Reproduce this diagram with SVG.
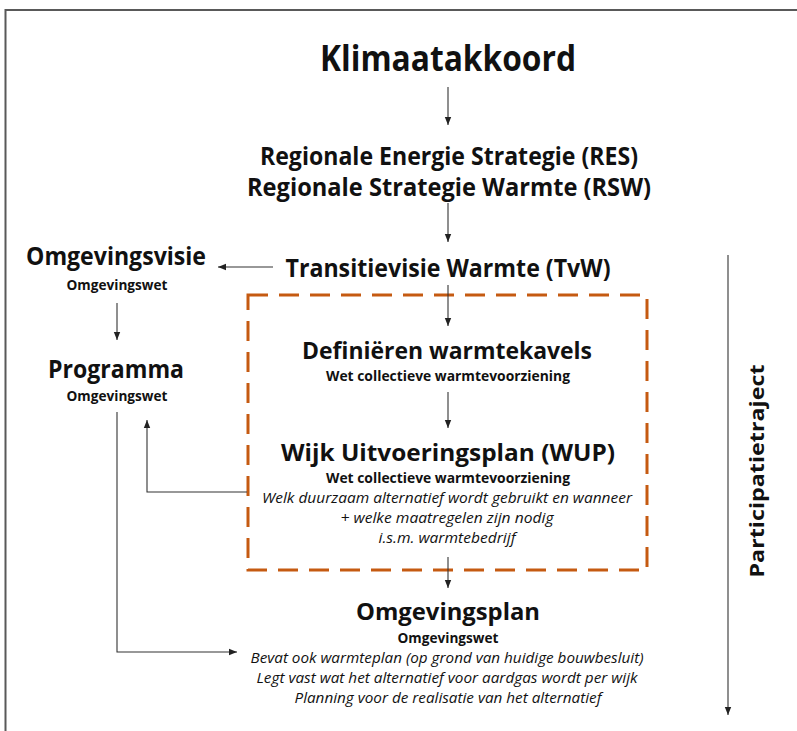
<svg xmlns="http://www.w3.org/2000/svg" width="797" height="731" viewBox="0 0 797 731">
  <defs>
    <marker id="arr" viewBox="0 0 10 10" markerUnits="userSpaceOnUse" markerWidth="8" markerHeight="8" refX="10" refY="5" orient="auto">
      <path d="M0,1 L10,5 L0,9 z" fill="#222"/>
    </marker>
  </defs>
  <style>
    text { font-family: "Open Sans", "Noto Sans", "Liberation Sans", sans-serif; fill: #111; text-anchor: middle; }
    .h1 { font-size: 36px; font-weight: 700; }
    .h2 { font-size: 25px; font-weight: 700; }
    .h3 { font-size: 24px; font-weight: 700; }
    .sub { font-size: 14px; font-weight: 700; }
    .it { font-size: 14.5px; font-style: italic; font-weight: 400; }
    .side { font-size: 19px; font-weight: 700; }
    .conn { fill: none; stroke: #333; stroke-width: 1.1; }
    .frame { fill: none; stroke: #595959; stroke-width: 2; }
    .dash { fill: none; stroke: #C55A11; stroke-width: 3; stroke-dasharray: 20 11; }
  </style>
  <rect width="797" height="731" fill="#ffffff"/>
  <g id="frame">
    <path class="frame" d="M5.5,731 L5.5,10 L797,10"/>
  </g>

  <g id="wijk-kader">
    <rect class="dash" x="248" y="295" width="399" height="275"/>
  </g>

  <g id="connectors">
    <line class="conn" x1="448" y1="87" x2="448" y2="125" marker-end="url(#arr)"/>
    <line class="conn" x1="448" y1="203" x2="448" y2="242" marker-end="url(#arr)"/>
    <line class="conn" x1="273" y1="267" x2="218" y2="267" marker-end="url(#arr)"/>
    <line class="conn" x1="117" y1="303" x2="117" y2="340" marker-end="url(#arr)"/>
    <line class="conn" x1="448" y1="285" x2="448" y2="326" marker-end="url(#arr)"/>
    <line class="conn" x1="448" y1="392" x2="448" y2="428" marker-end="url(#arr)"/>
    <polyline class="conn" points="247,492 147,492 147,420" marker-end="url(#arr)"/>
    <line class="conn" x1="448" y1="557" x2="448" y2="588" marker-end="url(#arr)"/>
    <polyline class="conn" points="117,412 117,652 237,652" marker-end="url(#arr)"/>
    <line class="conn" x1="728" y1="255" x2="728" y2="715" marker-end="url(#arr)"/>
  </g>

  <g id="klimaatakkoord">
    <text class="h1" x="448" y="71" textLength="256" lengthAdjust="spacingAndGlyphs">Klimaatakkoord</text>
  </g>
  <g id="res-rsw">
    <text class="h2" x="449" y="165" textLength="378" lengthAdjust="spacingAndGlyphs">Regionale Energie Strategie (RES)</text>
    <text class="h2" x="449" y="196" textLength="404" lengthAdjust="spacingAndGlyphs">Regionale Strategie Warmte (RSW)</text>
  </g>
  <g id="tvw">
    <text class="h2" x="448" y="277" textLength="325" lengthAdjust="spacingAndGlyphs">Transitievisie Warmte (TvW)</text>
  </g>
  <g id="omgevingsvisie">
    <text class="h2" x="116" y="265" textLength="180" lengthAdjust="spacingAndGlyphs">Omgevingsvisie</text>
    <text class="sub" x="117" y="290" textLength="101" lengthAdjust="spacingAndGlyphs">Omgevingswet</text>
  </g>
  <g id="programma">
    <text class="h2" x="116" y="378" textLength="136" lengthAdjust="spacingAndGlyphs">Programma</text>
    <text class="sub" x="117" y="401" textLength="101" lengthAdjust="spacingAndGlyphs">Omgevingswet</text>
  </g>
  <g id="definieren">
    <text class="h3" x="447" y="359" textLength="290" lengthAdjust="spacingAndGlyphs">Definiëren warmtekavels</text>
    <text class="sub" x="448" y="381" textLength="244" lengthAdjust="spacingAndGlyphs">Wet collectieve warmtevoorziening</text>
  </g>
  <g id="wup">
    <text class="h3" x="448" y="461" textLength="334" lengthAdjust="spacingAndGlyphs">Wijk Uitvoeringsplan (WUP)</text>
    <text class="sub" x="448" y="483" textLength="244" lengthAdjust="spacingAndGlyphs">Wet collectieve warmtevoorziening</text>
    <text class="it" x="447" y="503" textLength="370" lengthAdjust="spacingAndGlyphs">Welk duurzaam alternatief wordt gebruikt en wanneer</text>
    <text class="it" x="447" y="523" textLength="213" lengthAdjust="spacingAndGlyphs">+ welke maatregelen zijn nodig</text>
    <text class="it" x="447" y="543" textLength="137" lengthAdjust="spacingAndGlyphs">i.s.m. warmtebedrijf</text>
  </g>
  <g id="omgevingsplan">
    <text class="h3" x="448" y="620" textLength="184" lengthAdjust="spacingAndGlyphs">Omgevingsplan</text>
    <text class="sub" x="448" y="643" textLength="101" lengthAdjust="spacingAndGlyphs">Omgevingswet</text>
    <text class="it" x="447" y="663" textLength="393" lengthAdjust="spacingAndGlyphs">Bevat ook warmteplan (op grond van huidige bouwbesluit)</text>
    <text class="it" x="447" y="683" textLength="381" lengthAdjust="spacingAndGlyphs">Legt vast wat het alternatief voor aardgas wordt per wijk</text>
    <text class="it" x="448" y="703" textLength="307" lengthAdjust="spacingAndGlyphs">Planning voor de realisatie van het alternatief</text>
  </g>
  <g id="participatietraject">
    <text class="side" transform="translate(764,471) rotate(-90)" textLength="213" lengthAdjust="spacingAndGlyphs">Participatietraject</text>
  </g>
</svg>
